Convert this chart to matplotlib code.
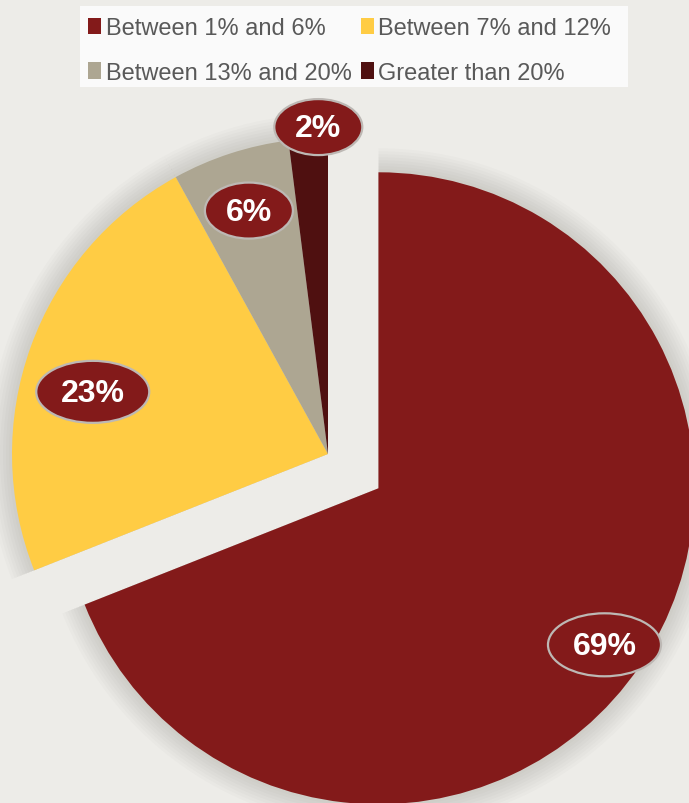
import numpy as np
import matplotlib
matplotlib.use("Agg")
import matplotlib.pyplot as plt
from matplotlib.patches import Ellipse, Rectangle, Wedge

# data
labels = ["Between 1% and 6%", "Between 7% and 12%", "Between 13% and 20%", "Greater than 20%"]
values = [69, 23, 6, 2]
pct_text = ["69%", "23%", "6%", "2%"]
colors = ["#831A1A", "#FFCC44", "#ADA692", "#4F1010"]

plt.rcParams['font.family'] = ['Liberation Sans', 'DejaVu Sans']

W, H = 689, 804
fig = plt.figure(figsize=(W / 100, H / 100), dpi=100)
fig.patch.set_facecolor("#EDECE8")
ax = fig.add_axes([0, 0, 1, 1])

cx, cy, R = 328, H - 455, 316
# explode is in data units (pixels here)
explode = [61, 0, 0, 0]

wedges, _ = ax.pie(values, colors=colors, startangle=90, counterclock=False,
                   explode=explode, radius=R, center=(cx, cy), frame=True,
                   wedgeprops=dict(linewidth=0))
for w in wedges:
    w.set_zorder(2)

# soft shadow: bigger faint copies of each wedge
for w in wedges:
    for k in range(1, 9):
        ax.add_patch(Wedge(w.center, R + k * 3, w.theta1, w.theta2,
                           facecolor="#77756c", alpha=0.03, lw=0, zorder=1))

# label positions: along each wedge with small angle tweaks
label_dist = [0.87, 0.77, 0.81, 1.035]
label_dang = [-0.5, 5, 0, -1.9]
ell_size = [(113, 63), (113, 62), (88, 56), (88, 56)]
for w, d, da, t, (ew, eh) in zip(wedges, label_dist, label_dang, pct_text, ell_size):
    ang = np.deg2rad((w.theta1 + w.theta2) / 2 + da)
    x0, y0 = w.center
    lx = x0 + d * R * np.cos(ang)
    ly = y0 + d * R * np.sin(ang)
    ax.add_patch(Ellipse((lx, ly), ew, eh, facecolor="#831A1A", edgecolor="#BDB8B4",
                         lw=1.6, zorder=4))
    ax.text(lx, ly - 1, t, ha="center", va="center", color="white", fontsize=23,
            fontweight="bold", zorder=5)

ax.set_xlim(0, W)
ax.set_ylim(0, H)
ax.set_aspect("equal")
ax.axis("off")

# legend box, filled row by row
ax.add_patch(Rectangle((80, H - 88), 548, 81, facecolor="#FAFAFA", edgecolor="none", zorder=3))
order = [0, 2, 1, 3]
leg = ax.legend([wedges[i] for i in order], [labels[i] for i in order], ncol=2,
                loc="upper left", bbox_to_anchor=(79 / W, 1 - 9 / H),
                frameon=False, fontsize=17, handlelength=0.55, handleheight=0.7,
                handletextpad=0.2, columnspacing=0.37, labelspacing=0.95, borderaxespad=0)
for t in leg.get_texts():
    t.set_color("#595959")
leg.set_zorder(6)

fig.savefig("out.png", dpi=100, facecolor=fig.get_facecolor())
